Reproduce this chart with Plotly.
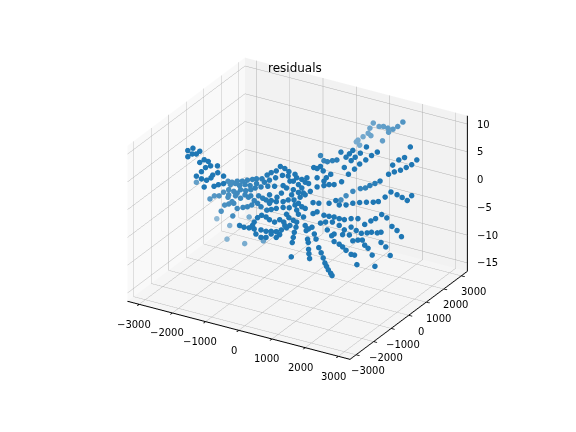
import plotly.graph_objects as go

# residuals, one group of points at a time
arm_x = [-2249, -2095, -1890, -1992, -2115, -2249, -1890, -1757, -1634, -1562, -1716, -1839, -1992, -1839, -1685, -1552, -1357, -1347, -1501, -1173, -1757, -1460, -1327, -1173]
arm_y = [-2000] * len(arm_x)
arm_z = [9.17, 9.84, 9.61, 8.96, 8.77, 8.07, 7.59, 8.29, 8.17, 7.49, 6.94, 6.01, 4.97, 4.72, 4.71, 5.35, 7.81, 6.59, 5.92, 6.25, 3.38, 3.97, 4.47, 4.90]

band_x = [-3048, -2095, -1972, -1818, -1665, -1511, -1357, -1234, -1071, -917, -794, -640, -517, -384, -261, -2228, -2074, -1921, -1716, -1562, -1409, -1275, -1101, -896, -691, -435, -2074, -1870, -1716, -1583, -1409, -1173, -948, -794, -620, -435, -282, -2638, -2505, -2361, -2095, -1972, -2197, -2074, -1921, -1818, -1644, -1511, -1378, -1204, -1101, -2300, -1951, -927, -794, -640, -435]
band_y = [0] * len(band_x)
band_z = [-2.52, -0.84, -0.83, -0.40, -0.16, 0.26, 0.63, 0.94, 1.20, 2.11, 2.73, 3.28, 4.27, 4.11, 3.75, -3.02, -2.34, -2.40, -1.78, -1.72, -1.30, -0.78, -0.32, 0.12, 0.44, 0.96, -3.26, -3.12, -3.31, -2.50, -2.40, -2.03, -2.42, -2.30, -1.42, -1.93, -1.38, -4.88, -4.12, -3.89, -3.73, -4.33, -5.30, -4.91, -4.55, -5.31, -4.86, -4.53, -4.01, -3.43, -3.89, -6.56, -6.87, -4.23, -3.90, -3.47, -2.97]

dense_x = [-2023, -1870, -1746, -1583, -1429, -1234, -999, -845, -661, -456, -1818, -1480, -1306, -1050, -845, -487, -179, -230, 128, 333, -77, 230, 179, 26, -845, -640, -230, -384]
dense_y = [0] * len(dense_x)
dense_z = [-1.34, -0.91, -1.09, -0.66, -0.59, 0.08, 0.69, 1.30, 2.02, 2.77, -2.55, -2.76, -3.10, -2.27, -1.34, -0.47, -0.30, 2.08, 1.41, 2.53, -1.98, -2.11, -3.73, -3.48, -2.87, -2.25, -5.90, -6.14]

far_x = [-2961, -1987, -2571, -2653, -2121, -1557]
far_y = [1000] * len(far_x)
far_z = [-11.32, -9.48, -11.93, -14.51, -14.48, -13.11]

loop_x = [-1219, -1086, -932, -779, -676, -553, -420, -318, -164, -10, 113, 195, 41, -113, -266, -420, -574, -727, -574, -420, -266, -113, -10, -830, -779]
loop_y = [-1000] * len(loop_x)
loop_z = [-5.08, -5.18, -5.06, -3.78, -2.82, -2.20, -2.30, -2.63, -2.82, -2.15, -2.39, -3.30, -3.91, -4.46, -4.64, -4.88, -4.87, -5.85, -6.22, -5.98, -5.13, -5.50, -4.85, -4.47, -5.01]

center_x = [-333, -261, -128, -251, -26, 128, 26, -108, 77, 230, 384, 589, 794, 948, 1101, 1327, -77, -26, 128, 282, 230, 26, -128, -282, -333, -128, 26, 179, 487, 589, 691, 773, 866, 999, 794, 589]
center_y = [0] * len(center_x)
center_z = [-4.04, -4.54, -4.82, -2.74, -2.82, -1.97, -1.51, -1.11, -0.33, 0.34, 1.20, 2.32, 2.88, 3.30, 3.54, 4.40, 3.55, 3.01, 2.95, 3.49, 2.61, 1.86, 2.24, 2.92, 0.69, 0.70, 0.45, 0.57, 5.65, 5.63, 6.16, 5.49, 4.41, 5.23, 3.68, 3.97]

upper_x = [164, 266, 369, 522, 656, 779, 932, 1035, 1137, 881, 1004, 1188, 1342, 1526, 1700, 1875, 1547, 1362, 1209, 1086]
upper_y = [1000] * len(upper_x)
upper_z = [4.93, 4.17, 4.15, 4.57, 4.91, 6.52, 5.84, 6.61, 7.38, 3.91, 2.88, 4.09, 5.25, 6.28, 7.34, 8.23, 8.64, 7.24, 6.27, 5.46]

top_x = [449, 551, 654, 807, 858, 961, 1135, 1268, 1401, 1555, 1698, 1852, 1422, 1238, 889, 500]
top_y = [2500] * len(top_x)
top_z = [4.30, 3.85, 5.54, 6.39, 7.40, 8.48, 8.13, 8.34, 8.25, 8.30, 9.01, 10.05, 7.54, 5.71, 6.10, 4.69]

right_x = [2800, 2646, 2482, 2308, 2124, 1949, 1693, 1540, 1386, 1253, 1099, 874, 669, 515, 2431, 2257, 2072, 2605]
right_y = [1500] * len(right_x)
right_z = [7.08, 5.98, 5.22, 4.46, 3.87, 3.17, 1.54, 0.87, 0.26, -0.38, -0.74, -1.58, -2.70, -3.68, 6.93, 6.23, 5.01, 9.11]

ray_a_x = [3173, 3040, 2887, 2733, 2549, 2374, 2170, 2016, 1811, 1606, 1401, 1197, 992, 889, 684, 377, 203]
ray_a_y = [500] * len(ray_a_x)
ray_a_z = [3.59, 2.52, 2.83, 3.08, 3.28, 2.09, 0.97, 0.61, 0.29, -0.09, -0.53, -1.16, -1.48, -0.85, -1.66, -2.14, -2.29]

ray_b_x = [2689, 2535, 2351, 2208, 2023, 1818, 1613, 1409, 1255, 1101, 948, 794, 589, 466, 3130, 2996, 2843, 2515, 2402, 2228, 2095, 1921, 1767, 1613, 1409, 1255, 1050, 845, 691]
ray_b_y = [0] * len(ray_b_x)
ray_b_z = [0.02, 0.39, -0.64, -1.28, -2.19, -1.47, -1.79, -2.29, -2.35, -2.29, -2.41, -2.46, -2.17, -2.66, -2.67, -1.77, -1.28, -2.83, -3.13, -3.28, -3.61, -3.95, -3.69, -3.32, -4.13, -3.57, -3.29, -3.61, -4.03]

ray_c_x = [3055, 2922, 2778, 2215, 2082, 1928, 1825, 1621, 1365, 1160]
ray_c_y = [-500] * len(ray_c_x)
ray_c_z = [-4.99, -3.66, -3.08, -3.53, -3.74, -4.11, -3.22, -3.48, -3.77, -3.35]

ray_d_x = [2858, 2776, 2653, 2551, 2315, 2243, 2141, 1987, 1885, 1782, 1629, 1557]
ray_d_y = [-1000] * len(ray_d_x)
ray_d_z = [-6.07, -4.17, -3.14, -2.74, -6.61, -5.00, -5.04, -4.55, -4.09, -3.76, -3.52, -2.59]

ray_e_x = [1491, 1562, 1613, 1695, 1767, 1829, 1880, 1931, 1982, 2054, 2095, 1286, 1388, 1316, 1357, 1378, 1388, 1398, 1419, 1030, 1009, 958, 927, 896, 866]
ray_e_y = [-2000] * len(ray_e_x)
ray_e_z = [1.21, 0.10, -0.74, -2.15, -2.96, -3.79, -4.63, -5.16, -5.70, -6.20, -6.56, 1.20, 0.74, 0.33, -1.15, -1.72, -2.94, -3.72, -4.55, 1.41, 0.46, -0.54, -1.51, -2.48, -5.10]

x_vals = arm_x + band_x + dense_x + far_x + loop_x + center_x + upper_x + top_x + right_x + ray_a_x + ray_b_x + ray_c_x + ray_d_x + ray_e_x
y_vals = arm_y + band_y + dense_y + far_y + loop_y + center_y + upper_y + top_y + right_y + ray_a_y + ray_b_y + ray_c_y + ray_d_y + ray_e_y
z_vals = arm_z + band_z + dense_z + far_z + loop_z + center_z + upper_z + top_z + right_z + ray_a_z + ray_b_z + ray_c_z + ray_d_z + ray_e_z

x_ticks = [-3000, -2000, -1000, 0, 1000, 2000, 3000]
y_ticks = [-3000, -2000, -1000, 0, 1000, 2000, 3000]
z_ticks = [-15, -10, -5, 0, 5, 10]

x_min, x_max = -3350, 3350
y_min, y_max = -3350, 3350
z_min, z_max = -16.5, 11.5


def tick_text(v):
    return str(v).replace("-", "\u2212")


# fake matplotlib's depthshade, far points get mixed towards the pale pane colour
# (rgba colours come out too saturated in scatter3d)
colors = []
for x, y in zip(x_vals, y_vals):
    depth = (0.456 * x - 0.773 * y) / 1000
    alpha = min(1.0, 0.35 + 0.65 * (depth + 2.5) / 2.2)
    r = 31 * alpha + 243 * (1 - alpha)
    g = 119 * alpha + 243 * (1 - alpha)
    b = 180 * alpha + 243 * (1 - alpha)
    colors.append(f"rgb({r:.0f},{g:.0f},{b:.0f})")

axis_style = dict(
    showbackground=True,
    gridcolor="#b0b0b0",
    gridwidth=1,
    zeroline=False,
    title=dict(text=""),
    showticklabels=False,
    showspikes=False,
)

label_font = dict(family="DejaVu Sans", size=10, color="black")
annotations = []
for v in x_ticks:
    annotations.append(dict(x=v, y=y_min, z=z_min, text=tick_text(v), showarrow=False,
                            xshift=-5, yshift=-20, font=label_font))
for v in y_ticks:
    annotations.append(dict(x=x_max, y=v, z=z_min, text=tick_text(v), showarrow=False,
                            xshift=12, yshift=-16, font=label_font))
for v in z_ticks:
    annotations.append(dict(x=x_max, y=y_max, z=v, text=tick_text(v), showarrow=False,
                            xanchor="left", xshift=8, font=label_font))

# z axis sits on the right hand corner like matplotlib
z_line_x = [x_max, x_max]
z_line_y = [y_max, y_max]
z_line_z = [z_min, z_max]
for v in z_ticks:
    z_line_x += [None, x_max, x_max + 100]
    z_line_y += [None, y_max, y_max + 100]
    z_line_z += [None, v, v]

fig = go.Figure()
fig.add_trace(go.Scatter3d(
    x=x_vals, y=y_vals, z=z_vals, mode="markers",
    marker=dict(size=3.2, color=colors, line=dict(width=0)),
))
fig.add_trace(go.Scatter3d(
    x=z_line_x, y=z_line_y, z=z_line_z, mode="lines",
    line=dict(color="black", width=2), hoverinfo="skip",
))
fig.update_layout(
    width=576, height=432,
    margin=dict(l=0, r=0, t=0, b=0),
    paper_bgcolor="white",
    showlegend=False,
    scene=dict(
        # page body has an 8px margin, domain and title are moved back by that much
        domain=dict(x=[0.005, 1.0], y=[0.072, 1.0]),
        aspectmode="manual",
        # orthographic view zooms through the aspect ratio, not the eye distance
        aspectratio=dict(x=1.288, y=1.153, z=0.865),
        camera=dict(
            eye=dict(x=1.05, y=-1.78, z=1.02),
            center=dict(x=0, y=0, z=0),
            up=dict(x=0, y=0, z=1),
            projection=dict(type="orthographic"),
        ),
        xaxis=dict(axis_style, range=[x_min, x_max], tickvals=x_ticks, showline=True, linecolor="black",
                   linewidth=2, ticks="outside", ticklen=4, tickcolor="black", tickwidth=2, backgroundcolor="#f9f9f9"),
        yaxis=dict(axis_style, range=[y_min, y_max], tickvals=y_ticks, showline=True, linecolor="black",
                   linewidth=2, ticks="outside", ticklen=4, tickcolor="black", tickwidth=2, backgroundcolor="#f2f2f2"),
        zaxis=dict(axis_style, range=[z_min, z_max], tickvals=z_ticks, showline=False, ticks="",
                   backgroundcolor="#f5f5f5"),
        annotations=annotations,
    ),
    annotations=[dict(text="residuals", xref="paper", yref="paper", x=0.498, y=0.861, xanchor="center",
                      yanchor="middle", showarrow=False,
                      font=dict(family="DejaVu Sans", size=12, color="black"))],
)
fig.write_html("out.html")
